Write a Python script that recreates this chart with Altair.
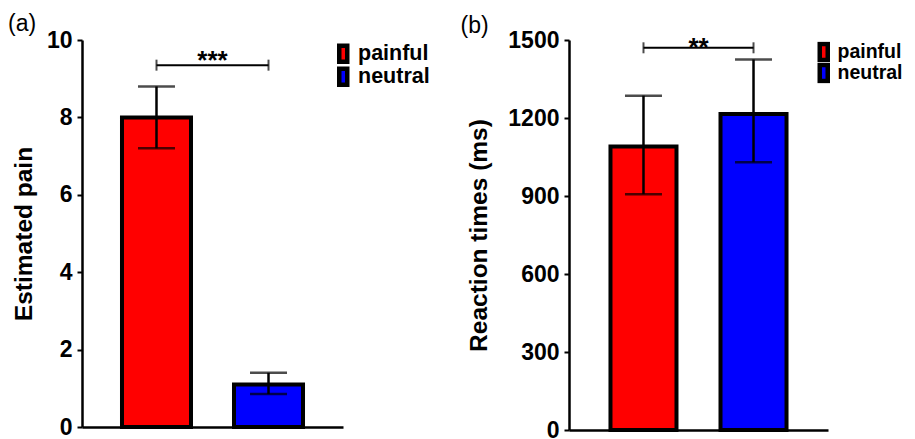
import altair as alt
import pandas as pd

conditions = ["painful", "neutral"]
colors = ["#FF0000", "#0000FF"]

pain_mean = [8.0, 1.1]
pain_lo = [7.2, 0.85]
pain_hi = [8.8, 1.4]
pain_ticks = [0, 2, 4, 6, 8, 10]
pain_sig_label = "***"
pain_sig_y = 9.35

rt_mean = [1090, 1215]
rt_lo = [907, 1030]
rt_hi = [1286, 1425]
rt_ticks = [0, 300, 600, 900, 1200, 1500]
rt_sig_label = "**"
rt_sig_y = 1470

FONT = "Liberation Sans"


def panel(mean, lo, hi, ticks, ymax, ytitle, sig_label, sig_y, label,
          w, h, p_in, p_out, title_offset, title_dx, legend_x, legend_y,
          legend_font, legend_row, title_pad, sig_dy):
    df = pd.DataFrame({"cond": conditions, "mean": mean, "lo": lo, "hi": hi})
    sig = pd.DataFrame({"cond": conditions, "y": [sig_y, sig_y]})
    star = pd.DataFrame({"cond": [conditions[0]], "y": [sig_y], "label": [sig_label]})

    step = w / (len(conditions) - p_in + 2 * p_out)

    xscale = alt.Scale(domain=conditions, paddingInner=p_in, paddingOuter=p_out)
    xaxis = alt.Axis(labels=False, ticks=False, title=None, domainColor="black",
                     domainWidth=2.5, grid=False)
    yscale = alt.Scale(domain=[0, ymax], nice=False, zero=True)
    yaxis = alt.Axis(values=ticks, format="d", title=ytitle, grid=False,
                     domainColor="black", domainWidth=2.5, tickColor="black",
                     tickWidth=2, tickSize=5, labelPadding=5, labelFont=FONT,
                     labelFontSize=23, labelFontWeight="bold", labelColor="black",
                     titleFont=FONT, titleFontSize=24.5, titleFontWeight="bold",
                     titleColor="black", titlePadding=title_pad)

    def X():
        return alt.X("cond:N", sort=conditions, scale=xscale, axis=xaxis)

    def Y(f):
        return alt.Y(f, scale=yscale, axis=yaxis)

    base = alt.Chart(df)
    bars = base.mark_bar(stroke="black", strokeWidth=4, opacity=1).encode(
        x=X(), y=Y("mean:Q"),
        color=alt.Color("cond:N", sort=conditions,
                        scale=alt.Scale(domain=conditions, range=colors),
                        legend=alt.Legend(
                            title=None, orient="none", legendX=legend_x, legendY=legend_y,
                            symbolType="M-1,-2H1V2H-1Z", symbolSize=64,
                            symbolStrokeColor="black", symbolStrokeWidth=4.5,
                            symbolOpacity=1, labelFont=FONT, labelFontSize=legend_font,
                            labelFontWeight="bold", labelColor="black", labelOffset=4,
                            clipHeight=legend_row, rowPadding=0, padding=0)),
    )
    err = base.mark_rule(color="black", strokeWidth=2.5).encode(
        x=X(), y=Y("lo:Q"), y2="hi:Q")
    cap_hi = base.mark_tick(color="black", thickness=2.5, size=37).encode(
        x=X(), y=Y("hi:Q"))
    cap_lo = base.mark_tick(color="black", thickness=2.5, size=37).encode(
        x=X(), y=Y("lo:Q"))
    brk = alt.Chart(sig).mark_line(color="black", strokeWidth=2).encode(
        x=X(), y=Y("y:Q"))
    brk_ends = alt.Chart(sig).mark_tick(orient="vertical", color="black",
                                        thickness=2, size=11).encode(
        x=X(), y=Y("y:Q"))
    stars = alt.Chart(star).mark_text(font=FONT, fontSize=26, fontWeight="bold",
                                      color="black", baseline="alphabetic",
                                      dx=step / 2, dy=sig_dy).encode(
        x=X(), y=Y("y:Q"), text="label:N")

    return alt.layer(bars, err, cap_hi, cap_lo, brk, brk_ends, stars).properties(
        width=w, height=h,
        title=alt.TitleParams(label, anchor="start", frame="group", dx=title_dx,
                              fontSize=23, fontWeight="normal", font=FONT,
                              color="black", offset=title_offset))


left = panel(pain_mean, pain_lo, pain_hi, pain_ticks, 10, "Estimated pain",
             pain_sig_label, pain_sig_y, "(a)", 261, 387, 0.384, 0.357,
             -6.5, -74, 250.5, 2.5, 21.5, 22.5, 10, 4)
right = panel(rt_mean, rt_lo, rt_hi, rt_ticks, 1500, "Reaction times (ms)",
              rt_sig_label, rt_sig_y, "(b)", 259, 390, 0.4, 0.377,
              -8.5, -108.5, 245, 1.5, 19.5, 21, 16, 8)

chart = alt.hconcat(left, right, spacing=29).resolve_scale(
    color="independent").properties(
    padding={"left": 0, "top": 4, "right": 0, "bottom": 0},
    background="white"
).configure_view(stroke=None, strokeWidth=0)

chart.save("out.html", embed_options={"renderer": "svg", "actions": False})
